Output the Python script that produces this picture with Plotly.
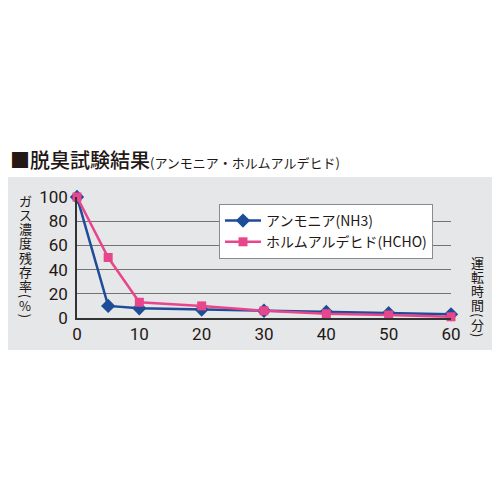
import plotly.graph_objects as go

# data
minutes = [0, 5, 10, 20, 30, 40, 50, 60]
nh3 = [100, 10, 8, 7, 6, 5, 4, 3]
hcho = [100, 50, 13, 10, 6, 3.5, 2.5, 1]
x_ticks = [0, 10, 20, 30, 40, 50, 60]
y_ticks = [0, 20, 40, 60, 80, 100]
grid_ticks = [20, 40, 60, 80]

title_main = "■脱臭試験結果"
title_sub = "(アンモニア・ホルムアルデヒド)"
y_title = "ガス濃度残存率(%)"
x_title = "運転時間(分)"
names = ["アンモニア(NH3)", "ホルムアルデヒド(HCHO)"]

blue = "#1d4c98"
pink = "#e8468c"
band = "#e6e7e8"
ink = "#231815"
jp = "Noto Sans CJK JP"

# the page has an 8px body margin, so page pixels are shifted by OFF
OFF = 8
W, H = 500 - OFF, 500 - OFF
# plot area in page pixels
L, R, T, B = 77, 451, 197, 318


def px(x):
    return (x - L) / (R - L)


def py(y):
    return (B - y) / (B - T)


fig = go.Figure()
fig.add_trace(go.Scatter(
    x=minutes, y=nh3, name=names[0], mode="lines+markers",
    line=dict(color=blue, width=2.5),
    marker=dict(symbol="diamond", size=11, color=blue),
    cliponaxis=False,
))
fig.add_trace(go.Scatter(
    x=minutes, y=hcho, name=names[1], mode="lines+markers",
    line=dict(color=pink, width=2.5),
    marker=dict(symbol="square", size=9, color=pink),
    cliponaxis=False,
))
# invisible helper trace so the grid axis exists
fig.add_trace(go.Scatter(x=[None], y=[None], yaxis="y2", showlegend=False, hoverinfo="skip"))

annotations = [dict(
    xref="paper", yref="paper", x=px(OFF), y=py(159), xanchor="left", yanchor="middle",
    showarrow=False,
    text="<span style='font-size:20px;font-weight:500'>" + title_main + "</span>"
         "<span style='font-size:13px;font-weight:400'>" + title_sub + "</span>",
    font=dict(family=jp, color=ink, size=13),
)]


def vertical(text, xc, y0):
    # stack characters top to bottom, parentheses turned sideways
    y = y0
    prev = ""
    parens = "()"
    for ch in text:
        if prev:
            y += 10 if (ch in parens or prev in parens) else 14.3
        annotations.append(dict(
            xref="paper", yref="paper", x=px(xc), y=py(y), xanchor="center", yanchor="middle",
            showarrow=False, text=ch, textangle=90 if ch in parens else 0,
            font=dict(family=jp, size=13, color=ink),
        ))
        prev = ch


vertical(y_title, 25, 200)
vertical(x_title, 477, 262)

fig.update_layout(
    width=W, height=H,
    margin=dict(l=L - OFF, r=500 - R, t=T - OFF, b=500 - B),
    paper_bgcolor="white",
    plot_bgcolor=band,
    showlegend=True,
    legend=dict(
        x=px(219), y=py(204), xanchor="left", yanchor="top",
        bgcolor="white", bordercolor="#8a8a8a", borderwidth=1,
        font=dict(family=jp, size=14, color=ink),
        itemwidth=36, tracegroupgap=0,
    ),
    xaxis=dict(
        range=[0, 60], tickvals=x_ticks, showgrid=False, zeroline=False,
        showline=True, linecolor="#333333", linewidth=1.5, ticks="",
        tickfont=dict(family="Roboto", size=17, color=ink),
    ),
    yaxis=dict(
        range=[0, 100], tickvals=y_ticks, showgrid=False, zeroline=False,
        showline=True, linecolor="#333333", linewidth=1.5, ticks="",
        ticklabelstandoff=4,
        tickfont=dict(family="Roboto", size=17, color=ink),
    ),
    yaxis2=dict(
        range=[0, 100], tickvals=grid_ticks, overlaying="y", showticklabels=False,
        showgrid=True, gridcolor="#737373", gridwidth=1, zeroline=False, ticks="",
    ),
    annotations=annotations,
    shapes=[dict(
        type="rect", xref="paper", yref="paper", layer="below",
        x0=px(0), x1=px(500), y0=py(350), y1=py(177),
        fillcolor=band, line=dict(width=0),
    )],
)

fig.write_html("out.html")
